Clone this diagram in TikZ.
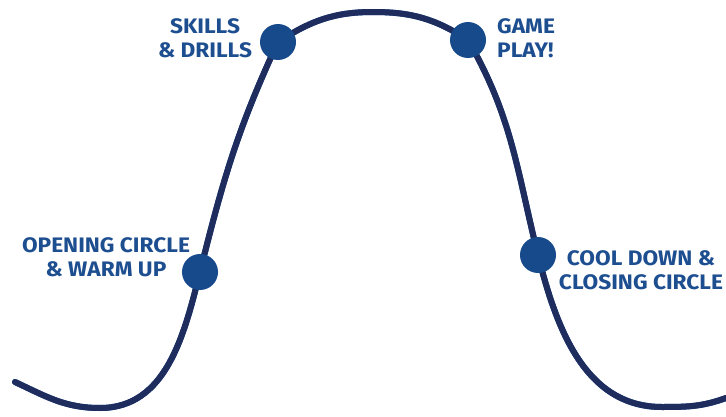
\documentclass[tikz,border=0pt]{standalone}
\usepackage{fontspec}
\setsansfont{Fira Sans}[FakeStretch=1.08]
\definecolor{navy}{HTML}{1E2D5E}
\definecolor{stripe}{HTML}{1B5299}
\definecolor{dotblue}{HTML}{174A8B}
\definecolor{textblue}{HTML}{1D4E90}
\begin{document}
\begin{tikzpicture}[x=1pt,y=1pt,
    dot/.style={circle,fill=dotblue,minimum size=36pt,inner sep=0pt},
    steplabel/.style={font=\sffamily\bfseries\fontsize{21}{24.5}\selectfont,text=textblue,inner sep=0pt},
    wave/.style={line width=6pt,line cap=round}]
  \useasboundingbox (0,0) rectangle (726,416);

  % points on the curve
  \coordinate (start)   at (15,34);
  \coordinate (low1)    at (100,8);
  \coordinate (opening) at (200,144);
  \coordinate (skills)  at (278,374);
  \coordinate (top)     at (373,404);
  \coordinate (game)    at (468,376);
  \coordinate (cool)    at (538,161);
  \coordinate (low2)    at (662,9);
  \coordinate (end)     at (726,18);

  % curve, lighter edge on the lower side
  \foreach \col/\dx/\dy in {stripe/1.8/-1.8,navy/0/0} {
    \draw[wave,\col,shift={(\dx,\dy)}] (start) to[out=-25,in=180] (low1)
      to[out=0,in=256] (opening) to[out=76,in=245] (skills)
      to[out=33,in=180] (top);
    \draw[wave,\col,shift={(-\dx,\dy)}] (top) to[out=0,in=147] (game)
      to[out=-60,in=104] (cool) to[out=-76,in=180] (low2)
      to[out=0,in=200] (end);
  }

  % dots
  \node[dot] (d1) at (opening) {};
  \node[dot] (d2) at (skills) {};
  \node[dot] (d3) at (game) {};
  \node[dot] (d4) at (cool) {};

  % labels
  \node[steplabel,align=center] (t1) at (106,159) {OPENING CIRCLE\\\& WARM UP};
  \node[steplabel,align=center] (t2) at (205,378) {SKILLS\\\& DRILLS};
  \node[steplabel,align=left,anchor=west] (t3) at (497,378) {GAME\\PLAY!};
  \node[steplabel,align=center] (t4) at (641,146) {COOL DOWN \&\\CLOSING CIRCLE};
\end{tikzpicture}
\end{document}
